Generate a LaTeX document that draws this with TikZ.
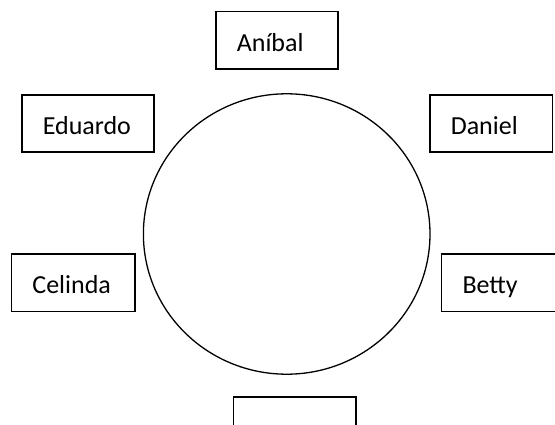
\documentclass[tikz,border=0pt]{standalone}
\usepackage{fontspec}
\setmainfont{Carlito}

\tikzset{
    seat/.style={draw, line width=1.6pt, rectangle, anchor=north west,
        inner xsep=21pt, inner ysep=0pt, minimum height=57.5pt,
        text height=22pt, text depth=0pt, align=left,
        font=\fontsize{26}{30}\selectfont},
}

\begin{document}
\begin{tikzpicture}[x=1pt, y=-1pt]
    \useasboundingbox (0, 0) rectangle (555, 425);
    \clip (0, 0) rectangle (555, 425);
    
    \coordinate (mesa) at (286.7, 234);
    \draw [line width=1.3pt] (mesa) ellipse [x radius=143.3, y radius=140.2];
    
    \node [seat, minimum width=122pt, text width=80pt] (anibal) at (215, 10.6) {Aníbal};
    \node [seat, minimum width=132pt, text width=90pt] (eduardo) at (21, 94) {Eduardo};
    \node [seat, minimum width=122.5pt, text width=80.5pt] (daniel) at (429, 94) {Daniel};
    \node [seat, minimum width=123.4pt, text width=81.4pt] (celinda) at (10.6, 253) {Celinda};
    \node [seat, minimum width=122pt, text width=80pt] (betty) at (440.7, 253) {Betty};
    \node [seat, minimum width=122.4pt, text width=80.4pt] (vacio) at (232.6, 396) {};
    
\end{tikzpicture}
\end{document}
